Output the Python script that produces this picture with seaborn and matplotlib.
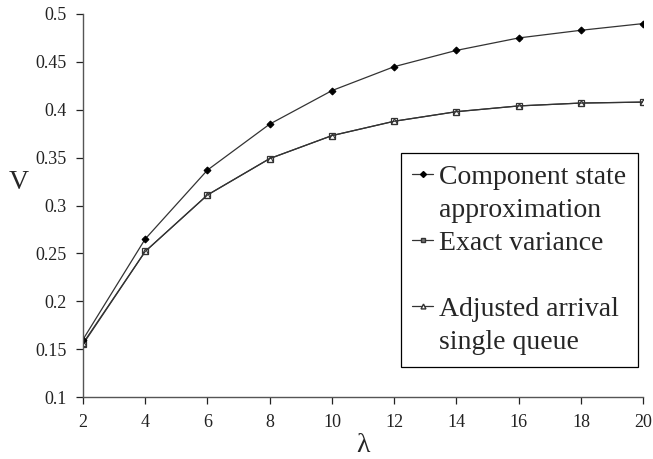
import numpy as np
import pandas as pd
import matplotlib
matplotlib.use("Agg")
import matplotlib.pyplot as plt
from matplotlib.lines import Line2D
import seaborn as sns

lam = [2, 4, 6, 8, 10, 12, 14, 16, 18, 20]
component_state = [0.160, 0.265, 0.337, 0.385, 0.420, 0.445, 0.462, 0.475, 0.483, 0.490]
exact_variance = [0.155, 0.252, 0.311, 0.349, 0.373, 0.388, 0.398, 0.404, 0.407, 0.408]
adjusted_arrival = [0.156, 0.252, 0.311, 0.349, 0.373, 0.388, 0.398, 0.404, 0.407, 0.408]

yticks = [0.1, 0.15, 0.2, 0.25, 0.3, 0.35, 0.4, 0.45, 0.5]
ytick_labels = ["0.1", "0.15", "0.2", "0.25", "0.3", "0.35", "0.4", "0.45", "0.5"]

sns.set_style("white")
plt.rcParams["font.family"] = ["Liberation Serif", "DejaVu Serif"]

fig = plt.figure(figsize=(6.53, 4.59), dpi=100)
ax = fig.add_axes([0.127, 0.135, 0.858, 0.8345])

LC = "#333333"
sns.lineplot(x=lam, y=adjusted_arrival, ax=ax, color=LC, lw=0.9,
             marker="^", markersize=4, markerfacecolor="white",
             markeredgecolor=LC, markeredgewidth=0.8)
sns.lineplot(x=lam, y=exact_variance, ax=ax, color=LC, lw=0.9,
             marker="s", markersize=4, markerfacecolor="none",
             markeredgecolor=LC, markeredgewidth=0.9)
sns.lineplot(x=lam, y=component_state, ax=ax, color=LC, lw=0.9,
             marker="D", markersize=3.5, markerfacecolor="black",
             markeredgecolor="black")

ax.set_xlim(2, 20)
ax.set_ylim(0.1, 0.5)
ax.set_xticks(lam)
ax.set_yticks(yticks)
ax.set_yticklabels(ytick_labels)
ax.tick_params(axis="both", labelsize=13, colors="#222222", length=5,
               width=0.9, direction="out", bottom=True, left=True)
ax.tick_params(axis="x", pad=7)
ax.tick_params(axis="y", pad=7)
for s in ["top", "right"]:
    ax.spines[s].set_visible(False)
for s in ["left", "bottom"]:
    ax.spines[s].set_color("#555555")
    ax.spines[s].set_linewidth(1.0)

ax.set_xlabel("λ", fontsize=20, labelpad=2)
ax.set_ylabel("V", fontsize=20, rotation=0, va="center")
ax.yaxis.set_label_coords(-0.115, 0.56)

# legend: one row per text line so handles sit on the first line
blank = Line2D([], [], color="none")
h_comp = Line2D([], [], color=LC, lw=0.9, marker="D", markersize=3,
                markerfacecolor="black", markeredgecolor="black")
h_exact = Line2D([], [], color=LC, lw=0.9, marker="s", markersize=3.5,
                 markerfacecolor="#777777", markeredgecolor=LC)
h_adj = Line2D([], [], color=LC, lw=0.9, marker="^", markersize=3.5,
               markerfacecolor="white", markeredgecolor=LC)
handles = [h_comp, blank, h_exact, blank, h_adj, blank]
labels = ["Component state", "approximation", "Exact variance", " ",
          "Adjusted arrival", "single queue"]
leg = ax.legend(handles, labels, loc="upper left",
                bbox_to_anchor=(0.567, 0.637), fontsize=20,
                frameon=True, fancybox=False, edgecolor="black",
                framealpha=1, handlelength=0.75, handletextpad=0.22,
                labelspacing=0.27, borderpad=0.42, borderaxespad=0)
leg.get_frame().set_linewidth(0.9)

fig.savefig("out.png", dpi=100)
